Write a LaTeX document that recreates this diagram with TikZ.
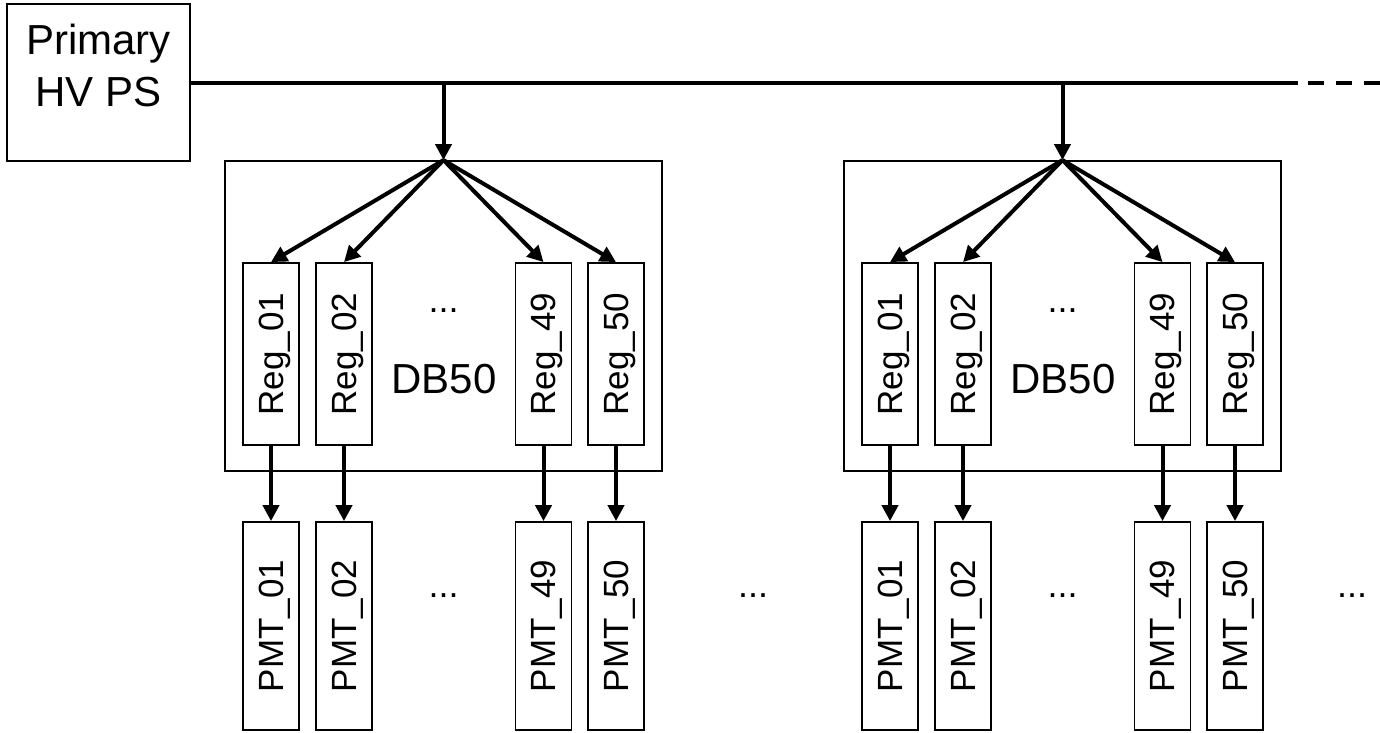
\documentclass[tikz,border=0pt]{standalone}
\usepackage{fontspec}
\setmainfont{Liberation Sans}
\usepackage{graphicx}
\usetikzlibrary{arrows.meta}
\newcommand\vlabel[1]{\rotatebox{90}{\raisebox{0pt}[\height][0pt]{#1}}}
\tikzset{
  box/.style={draw, line width=1.8pt, inner sep=0pt},
  regbox/.style={box, minimum width=56pt, minimum height=182pt, font=\fontsize{35}{42}\selectfont},
  pmtbox/.style={box, minimum width=56pt, minimum height=208pt, font=\fontsize{35}{42}\selectfont},
  bigtext/.style={font=\fontsize{42}{52}\selectfont, inner sep=0pt},
  dots/.style={font=\fontsize{36}{42}\selectfont, inner sep=0pt, anchor=base},
  conn/.style={line width=4pt, -{Triangle[length=16pt,width=16pt]}},
  bus/.style={line width=4pt}
}
\begin{document}
\begin{tikzpicture}[x=1pt,y=-1pt]
\useasboundingbox (0,0) rectangle (1380,732);
% primary power supply
\node[box, minimum width=183pt, minimum height=157pt] (ps) at (98.5,82.5) {};
\node[bigtext, align=center, anchor=north] (pslabel) at (98.5,24) {Primary\\HV PS};
% bus
\coordinate (busend) at (1298,82.5);
\coordinate (dashstart) at (1308,82.5);
\coordinate (busfar) at (1380,82.5);
\draw[bus] (ps.east) -- (busend);
\draw[bus, dash pattern=on 16pt off 12pt] (dashstart) -- (busfar);
% groups
\foreach \g/\dx in {a/0, b/619} {
  \node[box, minimum width=437pt, minimum height=310pt] (db\g) at (443.5+\dx,316) {};
  \node[bigtext, anchor=base] (dbl\g) at (444+\dx,393) {DB50};
  \coordinate (tap\g) at (443.5+\dx,82.5);
  \draw[conn] (tap\g) -- (db\g.north);
  \node[regbox] (r1\g) at (271+\dx,354) {\vlabel{Reg\_01}};
  \node[regbox] (r2\g) at (344+\dx,354) {\vlabel{Reg\_02}};
  \node[regbox] (r49\g) at (543.5+\dx,354) {\vlabel{Reg\_49}};
  \node[regbox] (r50\g) at (616+\dx,354) {\vlabel{Reg\_50}};
  \node[dots] (rd\g) at (443.5+\dx,312) {...};
  \node[pmtbox] (p1\g) at (271+\dx,626) {\vlabel{PMT\_01}};
  \node[pmtbox] (p2\g) at (344+\dx,626) {\vlabel{PMT\_02}};
  \node[pmtbox] (p49\g) at (543.5+\dx,626) {\vlabel{PMT\_49}};
  \node[pmtbox] (p50\g) at (616+\dx,626) {\vlabel{PMT\_50}};
  \node[dots] (pd\g) at (443.5+\dx,597) {...};
  \foreach \r in {1,2,49,50} {
    \draw[conn] (db\g.north) -- (r\r\g.north);
    \draw[conn] (r\r\g.south) -- (p\r\g.north);
  }
}
\node[dots] (gapdots) at (753,597) {...};
\node[dots] (enddots) at (1352,597) {...};
\end{tikzpicture}
\end{document}
